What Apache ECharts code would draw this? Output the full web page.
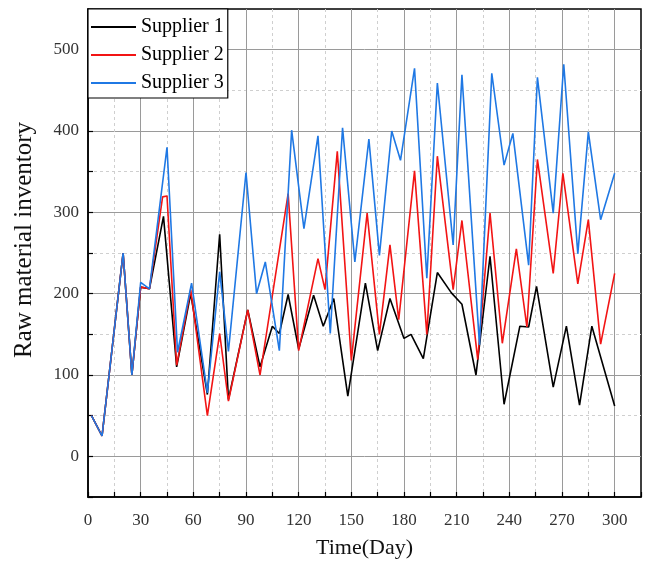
<!DOCTYPE html>
<html>
<head>
<meta charset="utf-8">
<script src="https://cdn.jsdelivr.net/npm/echarts@6/dist/echarts.min.js"></script>
<style>
html,body{margin:0;padding:0;background:#fff}
#chart{width:650px;height:565px}
</style>
</head>
<body>
<div id="chart"></div>
<script>
const seriesNames = ['Supplier 1', 'Supplier 2', 'Supplier 3']
const seriesColors = ['#000000', '#f21414', '#1f78e4']

// day of each vertex + inventory
const days1 = [2, 8, 20, 25, 30, 35, 43, 50.5, 58.5, 68, 75, 80, 91, 98, 105, 109, 114, 120, 128.5, 134, 140, 148, 158, 165, 172, 180, 184, 191, 199, 207, 213, 221, 229, 237, 246, 251, 255.5, 265, 272.5, 280, 287, 300]
const vals1 = [50, 25, 250, 100, 208, 206, 295, 110, 200, 76, 273, 70, 180, 110, 160, 151, 199, 132, 198, 160, 194, 74, 213, 130, 194, 145, 150, 120, 226, 201, 187, 100, 246, 64, 160, 159, 209, 85, 160, 63, 160, 62]

const days2 = [2, 8, 20, 25, 30, 35, 42.5, 45, 50.5, 58.5, 68, 75, 80, 91, 98, 114, 120, 131, 135, 142, 150, 159, 166, 172, 177, 186, 193, 199, 208, 213, 222, 229, 236, 244, 250, 256, 265, 270.5, 279, 285, 292, 300]
const vals2 = [50, 25, 250, 100, 208, 206, 319, 320, 112, 205, 50, 151, 68, 180, 100, 323, 130, 243, 205, 375, 118, 299, 150, 260, 168, 351, 150, 369, 205, 290, 119, 299, 139, 255, 159, 365, 225, 348, 212, 291, 138, 225]

const days3 = [2, 8, 20, 25, 30, 35, 45, 51, 59, 68, 75, 80, 90, 96, 101, 109, 116, 123, 131, 138, 145, 152, 160, 166, 173, 178, 186, 193, 199, 208, 213, 223, 230, 237, 242, 251, 256, 265, 271, 279, 285, 292, 300]
const vals3 = [50, 25, 250, 100, 214, 206, 380, 128, 213, 78, 227, 129, 349, 200, 239, 130, 401, 280, 394, 151, 404, 239, 390, 247, 400, 364, 477, 219, 459, 260, 469, 137, 471, 358, 397, 235, 466, 299, 482, 249, 399, 291, 348]

const xMin = 0, xMax = 315, xStep = 15
const yMin = -50, yMax = 550, yStep = 50

const zip = (xs, ys) => xs.map((x, i) => [x, ys[i]])
const allDays = [days1, days2, days3]
const allVals = [vals1, vals2, vals3]

const serif = 'Liberation Serif'
const majorLine = '#9a9a9a'
const minorLine = '#cfcfcf'

// two copies of each axis: one draws the solid major grid, the other the dashed minor grid
// (min/max lines are skipped, so colour cycling starts at the first inner line)
const makeX = (major) => ({
    type: 'value',
    min: xMin, max: xMax, interval: xStep,
    position: 'bottom',
    axisLine: {show: major, onZero: false, lineStyle: {color: '#000', width: 1.5}},
    axisTick: {show: major, inside: true, length: 5, lineStyle: {color: '#000', width: 1.2}},
    axisLabel: {
        show: major, margin: 15, color: '#333', fontFamily: serif, fontSize: 17,
        formatter: v => (v % 30 === 0 && v <= 300) ? String(v) : ''
    },
    splitLine: {
        show: true, showMinLine: false, showMaxLine: false,
        lineStyle: major ? {color: ['transparent', majorLine], width: 1, type: 'solid'}
                         : {color: [minorLine, 'transparent'], width: 1, type: [3, 3]}
    },
    name: major ? 'Time(Day)' : '',
    nameLocation: 'middle', nameGap: 40,
    nameTextStyle: {fontFamily: serif, fontSize: 22, color: '#111'}
})

const makeY = (major) => ({
    type: 'value',
    min: yMin, max: yMax, interval: yStep,
    position: 'left',
    axisLine: {show: major, onZero: false, lineStyle: {color: '#000', width: 1.5}},
    axisTick: {show: major, inside: true, length: 5, lineStyle: {color: '#000', width: 1.2}},
    axisLabel: {
        show: major, margin: 9, color: '#333', fontFamily: serif, fontSize: 17,
        formatter: v => (v % 100 === 0 && v >= 0 && v <= 500) ? String(v) : ''
    },
    splitLine: {
        show: true, showMinLine: false, showMaxLine: false,
        lineStyle: major ? {color: [majorLine, 'transparent'], width: 1, type: 'solid'}
                         : {color: ['transparent', minorLine], width: 1, type: [3, 3]}
    },
    name: major ? 'Raw material inventory' : '',
    nameLocation: 'middle', nameGap: 51, nameRotate: 90,
    nameTextStyle: {fontFamily: serif, fontSize: 25, color: '#111', padding: [0, 0, 0, 26]}
})

const chart = echarts.init(document.getElementById('chart'), null, {renderer: 'canvas'})

chart.setOption({
    animation: false,
    backgroundColor: '#fff',
    grid: {
        left: 88, right: 9, top: 9, bottom: 68,
        show: true, borderColor: '#000', borderWidth: 1.5, backgroundColor: 'transparent'
    },
    legend: {
        data: seriesNames,
        orient: 'vertical',
        left: 88, top: 9,
        padding: [8, 4, 5, 3],
        itemGap: 8,
        icon: 'rect',
        itemWidth: 45, itemHeight: 2,
        backgroundColor: '#fff',
        borderColor: '#000', borderWidth: 1.2, borderRadius: 0,
        textStyle: {fontFamily: serif, fontSize: 20, color: '#000', lineHeight: 20}
    },
    xAxis: [makeX(true), makeX(false)],
    yAxis: [makeY(true), makeY(false)],
    series: seriesNames.map((name, i) => ({
        name: name,
        type: 'line',
        xAxisIndex: 0, yAxisIndex: 0,
        symbol: 'none',
        z: 3 + i,
        lineStyle: {color: seriesColors[i], width: 1.6},
        itemStyle: {color: seriesColors[i]},
        data: zip(allDays[i], allVals[i])
    }))
})
</script>
</body>
</html>
